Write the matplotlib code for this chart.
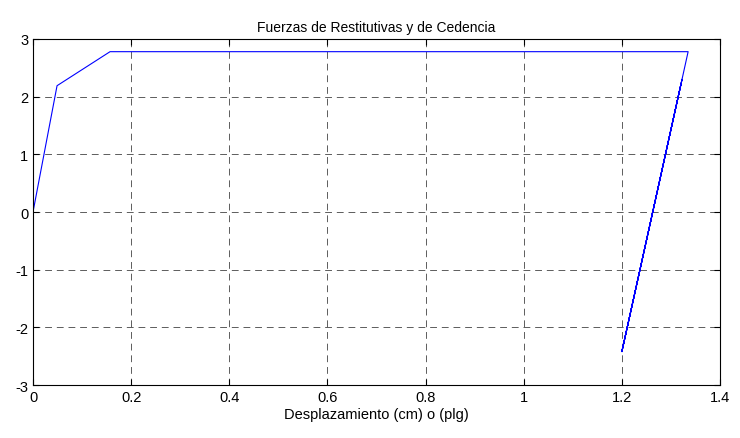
import matplotlib
matplotlib.use("Agg")
import matplotlib.pyplot as plt

plt.rcParams['font.family'] = ['Liberation Sans', 'DejaVu Sans']
plt.rcParams['axes.unicode_minus'] = False

# Restoring force path (displacement, force)
desplazamiento = [0.0, 0.049, 0.157, 1.335, 1.200, 1.3226, 1.2005, 1.3200, 1.2000]
fuerza = [0.0, 2.19, 2.78, 2.78, -2.42, 2.30, -2.40, 2.20, -2.42]

x_ticks = [0, 0.2, 0.4, 0.6, 0.8, 1.0, 1.2, 1.4]
x_labels = ['0', '0.2', '0.4', '0.6', '0.8', '1', '1.2', '1.4']
y_ticks = [-3, -2, -1, 0, 1, 2, 3]

fig = plt.figure(figsize=(7.4, 4.39), dpi=100)
ax = fig.add_axes([0.0446, 0.1207, 0.9284, 0.7882])

ax.plot(desplazamiento, fuerza, color='#0000ff', linewidth=0.8)

ax.set_xlim(0, 1.4)
ax.set_ylim(-3, 3)
ax.set_xticks(x_ticks)
ax.set_xticklabels(x_labels)
ax.set_yticks(y_ticks)
ax.tick_params(direction='in', length=4, labelsize=10.5, top=True, right=True,
               labeltop=False, labelright=False)
ax.grid(True, color='#333333', linestyle=(0, (7, 5)), linewidth=0.7, alpha=0.8)
for s in ax.spines.values():
    s.set_linewidth(0.8)

ax.set_title('Fuerzas de Restitutivas y de Cedencia', fontsize=10)
ax.set_xlabel('Desplazamiento (cm) o (plg)', fontsize=10.5, labelpad=2)

fig.savefig('out.png', dpi=100)
